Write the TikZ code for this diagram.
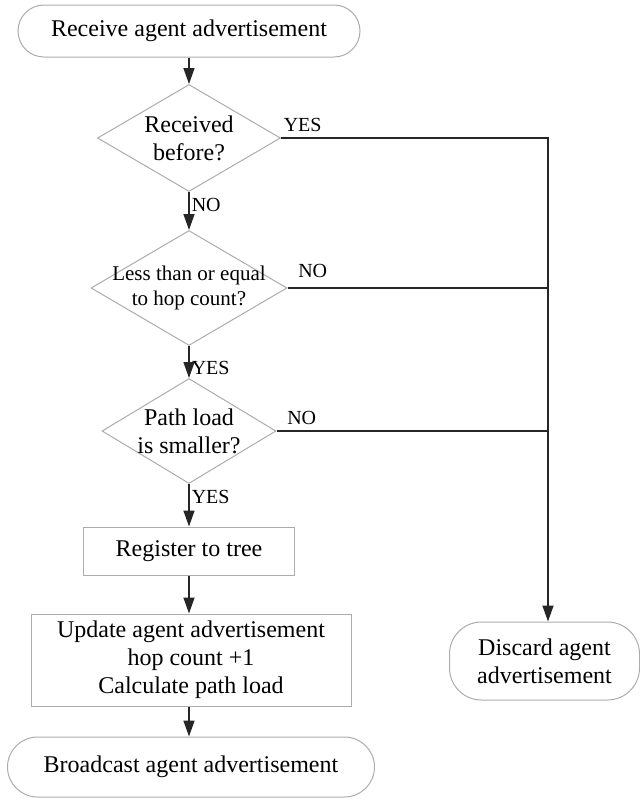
\documentclass[tikz,border=0pt]{standalone}
\usepackage{fontspec}
\setmainfont{Liberation Serif}
\usetikzlibrary{shapes.geometric,arrows.meta}

\tikzset{
  terminal/.style={draw=gray!65, line width=0.5pt, align=center, inner sep=0pt,
    font=\fontsize{12}{14}\selectfont},
  procbox/.style={draw=gray!65, line width=0.5pt, align=center, inner sep=0pt,
    font=\fontsize{12}{14}\selectfont},
  decision/.style={diamond, draw=gray!65, line width=0.5pt, inner sep=0pt},
  dectext/.style={align=center, inner sep=0pt},
  flow/.style={-{Triangle[length=8pt,width=5.5pt]}, line width=0.8pt, draw=black!85},
  branch/.style={line width=0.8pt, draw=black!85},
  yn/.style={font=\fontsize{10}{12}\selectfont, inner sep=1pt}
}

\begin{document}
\begin{tikzpicture}[x=0.5pt,y=-0.5pt]
\useasboundingbox (0,0) rectangle (640,800);

\node[terminal, minimum width=171pt, minimum height=26pt, rounded corners=13pt] (recv) at (189,31) {Receive agent advertisement};

\node[decision, minimum width=91.5pt, minimum height=53.5pt] (dec1) at (189,138) {};
\node[dectext, font=\fontsize{12}{14}\selectfont] (dec1t) at (dec1) {Received\\before?};

\node[decision, minimum width=98pt, minimum height=57.5pt] (dec2) at (189,288) {};
\node[dectext, font=\fontsize{10.5}{12.5}\selectfont] (dec2t) at (dec2) {Less than or equal\\to hop count?};

\node[decision, minimum width=87pt, minimum height=52.5pt] (dec3) at (189,431) {};
\node[dectext, font=\fontsize{12}{14}\selectfont] (dec3t) at (dec3) {Path load\\is smaller?};

\node[procbox, minimum width=105.5pt, minimum height=24pt] (reg) at (189,551) {Register to tree};
\node[procbox, minimum width=160pt, minimum height=46pt] (upd) at (191,660) {Update agent advertisement\\hop count +1\\Calculate path load};
\node[terminal, minimum width=183.5pt, minimum height=30pt, rounded corners=15pt] (bcast) at (191,767) {Broadcast agent advertisement};
\node[terminal, minimum width=95pt, minimum height=39pt, rounded corners=16pt] (disc) at (544.5,661) {Discard agent\\advertisement};

\coordinate (j1) at (548,138);
\coordinate (j2) at (548,288);
\coordinate (j3) at (548,431);

% main column
\draw[flow] (recv) -- (dec1);
\draw[flow] (dec1) -- node[yn, anchor=west, pos=0.35] (no1) {NO} (dec2);
\draw[flow] (dec2) -- node[yn, anchor=west, pos=0.7] (yes2) {YES} (dec3);
\draw[flow] (dec3) -- node[yn, anchor=west, pos=0.3] (yes3) {YES} (reg);
\draw[flow] (reg) -- (reg |- upd.north);
\draw[flow] (upd.south -| reg) -- (reg |- bcast.north);

% discard branch
\draw[flow] (dec1.east) -- node[yn, anchor=south west, pos=0, yshift=2pt] (yes1) {YES} (j1) -- (j1 |- disc.north);
\draw[branch] (dec2.east) -- node[yn, anchor=south west, pos=0, xshift=4pt, yshift=4pt] (no2) {NO} (j2);
\draw[branch] (dec3.east) -- node[yn, anchor=south west, pos=0, xshift=4pt, yshift=2pt] (no3) {NO} (j3);

\end{tikzpicture}
\end{document}
